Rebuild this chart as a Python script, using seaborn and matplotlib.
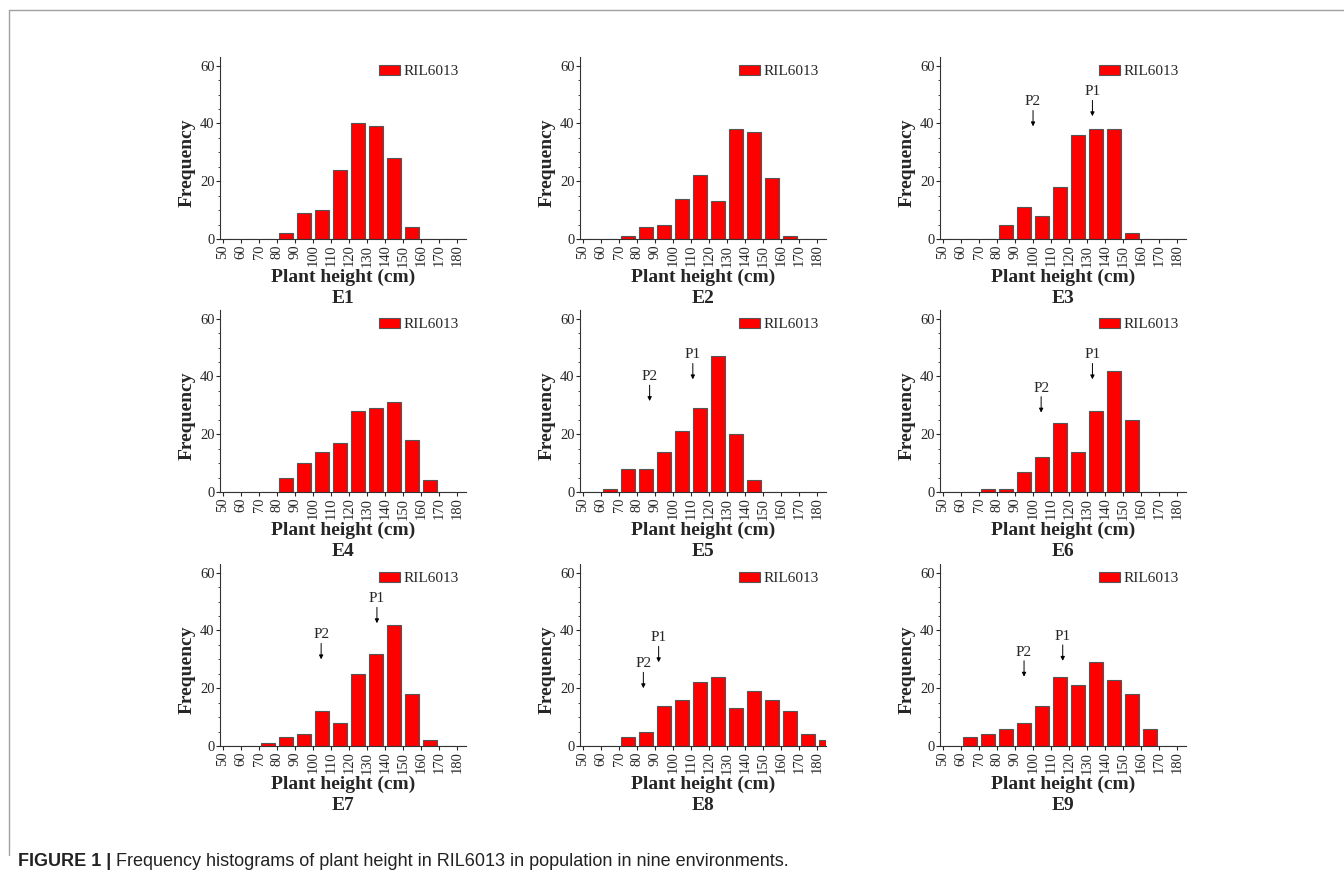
import seaborn as sns
import matplotlib.pyplot as plt
import numpy as np
from matplotlib.lines import Line2D
from matplotlib.patches import Patch

# bin left edges (cm), 10 cm bins
bins = [50, 60, 70, 80, 90, 100, 110, 120, 130, 140, 150, 160, 170, 180]

e1 = [0, 0, 0, 2, 9, 10, 24, 40, 39, 28, 4, 0, 0, 0]
e2 = [0, 0, 1, 4, 5, 14, 22, 13, 38, 37, 21, 1, 0, 0]
e3 = [0, 0, 0, 5, 11, 8, 18, 36, 38, 38, 2, 0, 0, 0]
e4 = [0, 0, 0, 5, 10, 14, 17, 28, 29, 31, 18, 4, 0, 0]
e5 = [0, 1, 8, 8, 14, 21, 29, 47, 20, 4, 0, 0, 0, 0]
e6 = [0, 0, 1, 1, 7, 12, 24, 14, 28, 42, 25, 0, 0, 0]
e7 = [0, 0, 1, 3, 4, 12, 8, 25, 32, 42, 18, 2, 0, 0]
e8 = [0, 0, 3, 5, 14, 16, 22, 24, 13, 19, 16, 12, 4, 2]
e9 = [0, 3, 4, 6, 8, 14, 24, 21, 29, 23, 18, 6, 0, 0]

envs = ["E1", "E2", "E3", "E4", "E5", "E6", "E7", "E8", "E9"]
counts = [e1, e2, e3, e4, e5, e6, e7, e8, e9]

# parent markers: (label, height cm, arrow tip frequency)
parents = {
    "E3": [("P2", 100, 39), ("P1", 133, 42.5)],
    "E5": [("P2", 87, 31.5), ("P1", 111, 39)],
    "E6": [("P2", 104.5, 27.5), ("P1", 133, 39)],
    "E7": [("P2", 104.5, 30), ("P1", 135.5, 42.5)],
    "E8": [("P2", 83.5, 20), ("P1", 92, 29)],
    "E9": [("P2", 95, 24), ("P1", 116.5, 29.5)],
}

sns.set_style("ticks")
plt.rcParams['font.family'] = ['Liberation Serif', 'DejaVu Serif']

W, H = 1344, 876
fig = plt.figure(figsize=(W / 100, H / 100), dpi=100)

lefts = [220, 580, 940]
bottoms = [239, 492, 746]
aw, ah = 246, 182
edges = bins + [190]

for i, (env, c) in enumerate(zip(envs, counts)):
    r, k = divmod(i, 3)
    ax = fig.add_axes([lefts[k] / W, 1 - bottoms[r] / H, aw / W, ah / H])
    x = [b + 5 for b, n in zip(bins, c) if n > 0]
    w = [n for n in c if n > 0]
    sns.histplot(x=x, weights=w, bins=edges, shrink=0.8, color="#ff0000",
                 alpha=1, edgecolor="#555555", linewidth=0.8, ax=ax)
    ax.set_xlim(48.3, 185)
    ax.set_ylim(0, 63)
    ax.set_xticks(bins)
    ax.set_xticklabels([str(b) for b in bins], rotation=90, fontsize=10.5)
    ax.set_yticks([0, 20, 40, 60])
    ax.set_yticks(np.arange(0, 61, 5), minor=True)
    ax.tick_params(axis='y', labelsize=10.5, pad=1, length=3, width=0.8)
    ax.tick_params(axis='y', which='minor', length=1.5, width=0.6)
    ax.tick_params(axis='x', pad=1, length=3, width=0.8)
    for s in ["top", "right"]:
        ax.spines[s].set_visible(False)
    for s in ["left", "bottom"]:
        ax.spines[s].set_color("#333333")
        ax.spines[s].set_linewidth(0.8)
    ax.set_xlabel("Plant height (cm)", fontsize=14, fontweight="bold")
    ax.set_ylabel("Frequency", fontsize=14, fontweight="bold")
    ax.xaxis.label.set_va("center")
    ax.yaxis.label.set_va("center")
    ax.xaxis.set_label_coords(0.5, -0.21)
    ax.yaxis.set_label_coords(-0.135, 0.42)
    ax.text(0.5, -0.325, env, transform=ax.transAxes, ha="center", va="center",
            fontsize=14, fontweight="bold")
    ax.legend(handles=[Patch(facecolor="#ff0000", edgecolor="#555555", linewidth=0.8)],
              labels=["RIL6013"], loc="upper right", frameon=False, fontsize=11,
              handlelength=1.4, handleheight=0.7, handletextpad=0.2,
              borderaxespad=0.1, bbox_to_anchor=(1.0, 1.0))
    for lab, px, tip in parents.get(env, []):
        ax.annotate("", xy=(px, tip), xytext=(px, tip + 5.5),
                    arrowprops=dict(arrowstyle="-|>", color="black", lw=0.7,
                                    mutation_scale=6, shrinkA=0, shrinkB=0))
        ax.text(px, tip + 8.5, lab, ha="center", va="center", fontsize=11)

# frame lines of the page
fig.add_artist(Line2D([9 / W, 1], [1 - 10 / H, 1 - 10 / H], color="#a0a0a0", lw=1))
fig.add_artist(Line2D([9 / W, 9 / W], [1 - 10 / H, 1 - 855 / H], color="#a0a0a0", lw=1))

# caption
t1 = fig.text(18 / W, 1 - 862 / H, "FIGURE 1 |", fontsize=13, fontweight="bold",
              family="Liberation Sans", va="center", color="#222222")
fig.canvas.draw()
bb = t1.get_window_extent()
fig.text((bb.x1 + 5) / W, 1 - 862 / H,
         "Frequency histograms of plant height in RIL6013 in population in nine environments.",
         fontsize=13, family="Liberation Sans", va="center", color="#222222")

fig.savefig("out.png", dpi=100)
